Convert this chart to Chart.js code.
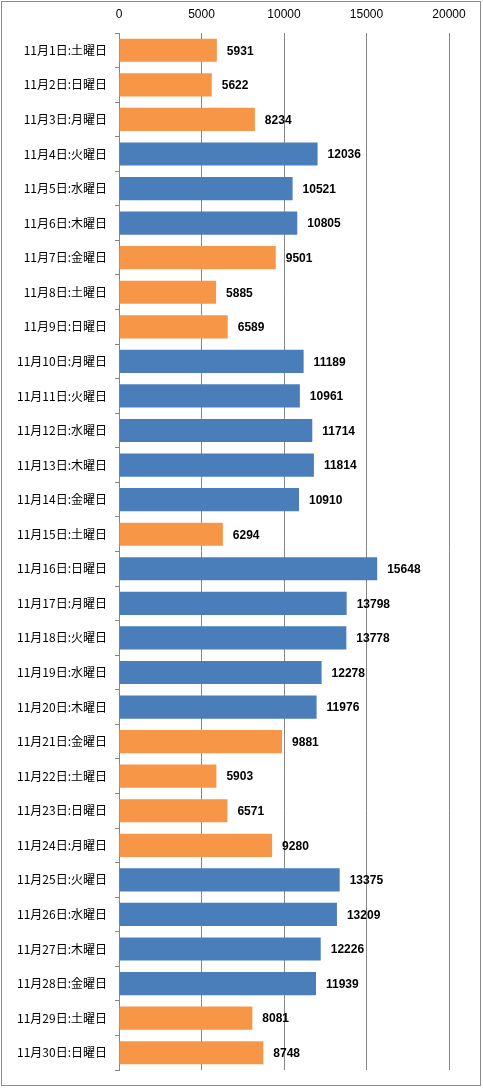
<!DOCTYPE html>
<html>
<head>
<meta charset="utf-8">
<script src="https://cdn.jsdelivr.net/npm/chart.js@4/dist/chart.umd.min.js"></script>
<style>
  html, body { margin: 0; padding: 0; background: #fff; }
  #wrap { position: relative; width: 483px; height: 1088px; }
</style>
</head>
<body>
<div id="wrap"><canvas id="myChart"></canvas></div>
<script>
// 11月の日別データ
const days = ['11月1日:土曜日', '11月2日:日曜日', '11月3日:月曜日', '11月4日:火曜日', '11月5日:水曜日',
    '11月6日:木曜日', '11月7日:金曜日', '11月8日:土曜日', '11月9日:日曜日', '11月10日:月曜日',
    '11月11日:火曜日', '11月12日:水曜日', '11月13日:木曜日', '11月14日:金曜日', '11月15日:土曜日',
    '11月16日:日曜日', '11月17日:月曜日', '11月18日:火曜日', '11月19日:水曜日', '11月20日:木曜日',
    '11月21日:金曜日', '11月22日:土曜日', '11月23日:日曜日', '11月24日:月曜日', '11月25日:火曜日',
    '11月26日:水曜日', '11月27日:木曜日', '11月28日:金曜日', '11月29日:土曜日', '11月30日:日曜日'];
const counts = [5931, 5622, 8234, 12036, 10521, 10805, 9501, 5885, 6589, 11189,
    10961, 11714, 11814, 10910, 6294, 15648, 13798, 13778, 12278, 11976,
    9881, 5903, 6571, 9280, 13375, 13209, 12226, 11939, 8081, 8748];
// 1 = orange bar, 0 = blue bar
const group = [1, 1, 1, 0, 0, 0, 1, 1, 1, 0,
    0, 0, 0, 0, 1, 0, 0, 0, 0, 0,
    1, 1, 1, 1, 0, 0, 0, 0, 1, 1];
const xTicks = [0, 5000, 10000, 15000, 20000];

const orange = '#F79646';
const blue = '#4A7EBB';
const gridColor = '#868686';

// value labels next to the bars
const valueLabels = {
    id: 'valueLabels',
    afterDatasetsDraw(chart) {
        const ctx = chart.ctx;
        const meta = chart.getDatasetMeta(0);
        ctx.save();
        ctx.font = 'bold 12px "Liberation Sans", sans-serif';
        ctx.fillStyle = '#000';
        ctx.textAlign = 'left';
        ctx.textBaseline = 'middle';
        meta.data.forEach((bar, i) => {
            ctx.fillText(String(counts[i]), bar.x + 10, bar.y + 1);
        });
        ctx.restore();
    }
};

// outer frame
const frame = {
    id: 'frame',
    afterDraw(chart) {
        const ctx = chart.ctx;
        ctx.save();
        ctx.strokeStyle = '#8c8c8c';
        ctx.lineWidth = 1;
        ctx.strokeRect(1.5, 1.5, 479, 1084);
        ctx.restore();
    }
};

const ctx = document.getElementById('myChart').getContext('2d');
const myChart = new Chart(ctx, {
    type: 'bar',
    data: {
        labels: days,
        datasets: [{
            data: counts,
            backgroundColor: group.map(g => g ? orange : blue),
            borderWidth: 0,
            barPercentage: 0.67,
            categoryPercentage: 1
        }]
    },
    options: {
        indexAxis: 'y',
        responsive: true,
        maintainAspectRatio: false,
        animation: false,
        layout: { padding: { left: 0, right: 34, top: 0, bottom: 18 } },
        plugins: {
            legend: { display: false },
            tooltip: { enabled: false }
        },
        scales: {
            x: {
                position: 'top',
                min: 0,
                max: 20000,
                afterBuildTicks: s => { s.ticks = xTicks.map(v => ({ value: v })); },
                afterFit: s => { s.height = 33; },
                grid: { color: gridColor, drawTicks: false },
                border: { display: false },
                ticks: {
                    padding: 11,
                    color: '#000',
                    callback: v => String(v),
                    font: { family: '"Liberation Sans", sans-serif', size: 12 }
                }
            },
            y: {
                afterFit: s => { s.width = 119; },
                grid: { drawOnChartArea: false, color: gridColor, tickLength: 4 },
                border: { color: gridColor },
                ticks: {
                    padding: 8,
                    color: '#000',
                    font: { family: '"Noto Sans CJK JP", sans-serif', size: 12 }
                }
            }
        }
    },
    plugins: [valueLabels, frame]
});
</script>
</body>
</html>
